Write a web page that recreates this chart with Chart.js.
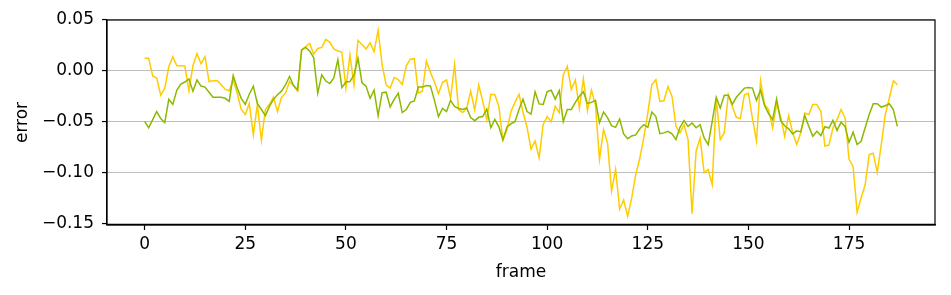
<!DOCTYPE html>
<html>
<head>
<meta charset="utf-8">
<script src="https://cdn.jsdelivr.net/npm/chart.js@4/dist/chart.umd.min.js"></script>
<style>
  html, body { margin: 0; padding: 0; background: #ffffff; }
  #wrap { width: 951px; height: 295px; position: relative; }
</style>
</head>
<body>
<div id="wrap"><canvas id="c" width="951" height="295"></canvas></div>
<script>
// ---- data ----
const frames = Array.from({length: 188}, (_, i) => i);

const yellowSeries = [
  0.0125, 0.0125, -0.005, -0.007, -0.024, -0.017, 0.004, 0.014, 0.005, 0.005,
  0.0045, -0.0196, 0.005, 0.017, 0.007, 0.014, -0.0105, -0.0098, -0.0095, -0.0137,
  -0.018, -0.0196, -0.009, -0.022, -0.038, -0.043, -0.032, -0.063, -0.033, -0.068,
  -0.038, -0.033, -0.026, -0.04, -0.026, -0.022, -0.0105, -0.015, -0.02, 0.0206,
  0.0239, 0.027, 0.0165, 0.022, 0.023, 0.031, 0.028, 0.0215, 0.0195, 0.0185,
  -0.017, 0.0157, -0.014, 0.030, 0.026, 0.0215, 0.0275, 0.019, 0.040, 0.006,
  -0.014, -0.017, -0.0065, -0.0085, -0.0135, 0.005, 0.0115, 0.012, -0.022, -0.020,
  0.0095, -0.0015, -0.011, -0.0225, -0.0112, -0.009, -0.027, 0.006, -0.038, -0.041,
  -0.037, -0.020, -0.0385, -0.014, -0.030, -0.048, -0.023, -0.0235, -0.035, -0.068,
  -0.058, -0.040, -0.031, -0.023, -0.0405, -0.0555, -0.077, -0.069, -0.0855, -0.053,
  -0.045, -0.050, -0.035, -0.041, -0.004, 0.0045, -0.0183, -0.009, -0.0368, -0.008,
  -0.039, -0.019, -0.034, -0.087, -0.058, -0.071, -0.118, -0.097, -0.136, -0.127,
  -0.143, -0.125, -0.102, -0.086, -0.066, -0.0415, -0.0137, -0.0088, -0.030, -0.0294,
  -0.0154, -0.025, -0.0546, -0.061, -0.053, -0.0676, -0.1405, -0.079, -0.066, -0.1003,
  -0.097, -0.112, -0.027, -0.0676, -0.061, -0.0235, -0.035, -0.0457, -0.047, -0.0235,
  -0.022, -0.047, -0.069, -0.0098, -0.033, -0.038, -0.056, -0.0327, -0.045, -0.0644,
  -0.044, -0.061, -0.0725, -0.061, -0.0415, -0.043, -0.033, -0.033, -0.040, -0.074,
  -0.073, -0.056, -0.048, -0.038, -0.046, -0.087, -0.094, -0.139, -0.125, -0.112,
  -0.0824, -0.081, -0.100, -0.0725, -0.043, -0.027, -0.0098, -0.0137
];

const greenSeries = [
  -0.0497, -0.056, -0.048, -0.040, -0.047, -0.051, -0.028, -0.033, -0.019, -0.013,
  -0.011, -0.008, -0.020, -0.009, -0.015, -0.016, -0.021, -0.026, -0.026, -0.026,
  -0.027, -0.030, -0.0046, -0.017, -0.027, -0.033, -0.023, -0.015, -0.032, -0.038,
  -0.044, -0.035, -0.028, -0.0235, -0.020, -0.0137, -0.0056, -0.0144, -0.0186, 0.0206,
  0.023, 0.0195, 0.013, -0.022, -0.004, -0.010, -0.0125, -0.007, 0.011, -0.0165,
  -0.011, -0.0105, -0.004, 0.0124, -0.0117, -0.015, -0.027, -0.019, -0.044, -0.0215,
  -0.021, -0.0355, -0.028, -0.022, -0.041, -0.038, -0.031, -0.0295, -0.016, -0.016,
  -0.0145, -0.0148, -0.029, -0.045, -0.037, -0.040, -0.029, -0.035, -0.037, -0.038,
  -0.0366, -0.046, -0.049, -0.0457, -0.045, -0.0376, -0.056, -0.0477, -0.055, -0.068,
  -0.0555, -0.052, -0.050, -0.038, -0.028, -0.040, -0.0425, -0.0205, -0.0325, -0.033,
  -0.0205, -0.019, -0.0278, -0.0195, -0.050, -0.038, -0.038, -0.031, -0.025, -0.0205,
  -0.032, -0.031, -0.029, -0.051, -0.0405, -0.046, -0.054, -0.0556, -0.0474, -0.062,
  -0.0667, -0.064, -0.063, -0.057, -0.053, -0.0556, -0.0405, -0.045, -0.0618, -0.061,
  -0.0595, -0.062, -0.0676, -0.0556, -0.049, -0.0546, -0.0513, -0.056, -0.053, -0.066,
  -0.0725, -0.0497, -0.026, -0.0366, -0.024, -0.024, -0.033, -0.026, -0.0215, -0.017,
  -0.0163, -0.017, -0.029, -0.019, -0.034, -0.042, -0.048, -0.0278, -0.049, -0.054,
  -0.057, -0.062, -0.059, -0.060, -0.044, -0.0546, -0.0644, -0.0595, -0.0637, -0.055,
  -0.0562, -0.0487, -0.0585, -0.0506, -0.0546, -0.0703, -0.0604, -0.0725, -0.0693, -0.056,
  -0.043, -0.0324, -0.0324, -0.0356, -0.0343, -0.0324, -0.038, -0.0546
];

const xTickValues = [0, 25, 50, 75, 100, 125, 150, 175];
const yTickValues = [-0.15, -0.10, -0.05, 0.00, 0.05];
const xAxisTitle = 'frame';
const yAxisTitle = 'error';

// ---- chart ----
const FONT = "'DejaVu Sans', 'Liberation Sans', sans-serif";
const FS = 17;

const frameBorder = {
  id: 'frameBorder',
  afterDatasetsDraw(chart) {
    const a = chart.chartArea, ctx = chart.ctx;
    ctx.save();
    ctx.strokeStyle = '#000000';
    ctx.lineWidth = 1.2;
    ctx.strokeRect(a.left, a.top, a.right - a.left, a.bottom - a.top);
    ctx.restore();
  }
};

const toXY = (ys) => ys.map((v, i) => ({x: frames[i], y: v}));

new Chart(document.getElementById('c'), {
  type: 'line',
  data: {
    datasets: [
      { label: 'green', data: toXY(greenSeries), borderColor: '#8cb900', borderWidth: 1.5,
        pointRadius: 0, tension: 0, fill: false },
      { label: 'yellow', data: toXY(yellowSeries), borderColor: '#ffcc00', borderWidth: 1.5,
        pointRadius: 0, tension: 0, fill: false }
    ]
  },
  options: {
    responsive: false,
    animation: false,
    devicePixelRatio: 1,
    layout: { padding: { top: 20, right: 16, bottom: 0, left: 0 } },
    plugins: { legend: { display: false }, tooltip: { enabled: false } },
    scales: {
      x: {
        type: 'linear',
        min: -9.35, max: 196.35,
        afterBuildTicks: (s) => { s.ticks = xTickValues.map(v => ({value: v})); },
        afterFit: (s) => { s.height = 70; },
        grid: { drawOnChartArea: false, drawTicks: true, tickLength: 5, tickColor: '#000', tickWidth: 1.2 },
        border: { display: true, color: '#000', width: 1.2 },
        ticks: { color: '#000', font: { family: FONT, size: FS }, padding: 4, maxRotation: 0,
                 callback: (v) => String(v) },
        title: { display: true, text: xAxisTitle, color: '#000', font: { family: FONT, size: FS },
                 padding: { top: 0, bottom: 12 } }
      },
      y: {
        type: 'linear',
        min: -0.1516, max: 0.05,
        afterBuildTicks: (s) => { s.ticks = yTickValues.map(v => ({value: v})); },
        afterFit: (s) => { s.width = 107; },
        grid: { drawOnChartArea: true, color: '#bdbdbd', lineWidth: 1.1, drawTicks: true,
                tickLength: 5, tickColor: '#000', tickWidth: 1.2 },
        border: { display: true, color: '#000', width: 1.2 },
        ticks: { color: '#000', font: { family: FONT, size: FS }, padding: 8,
                 callback: (v) => (v < 0 ? '\u2212' : '') + Math.abs(v).toFixed(2) },
        title: { display: true, text: yAxisTitle, color: '#000', font: { family: FONT, size: FS },
                 padding: { top: 12, bottom: 0 } }
      }
    }
  },
  plugins: [frameBorder]
});
</script>
</body>
</html>
